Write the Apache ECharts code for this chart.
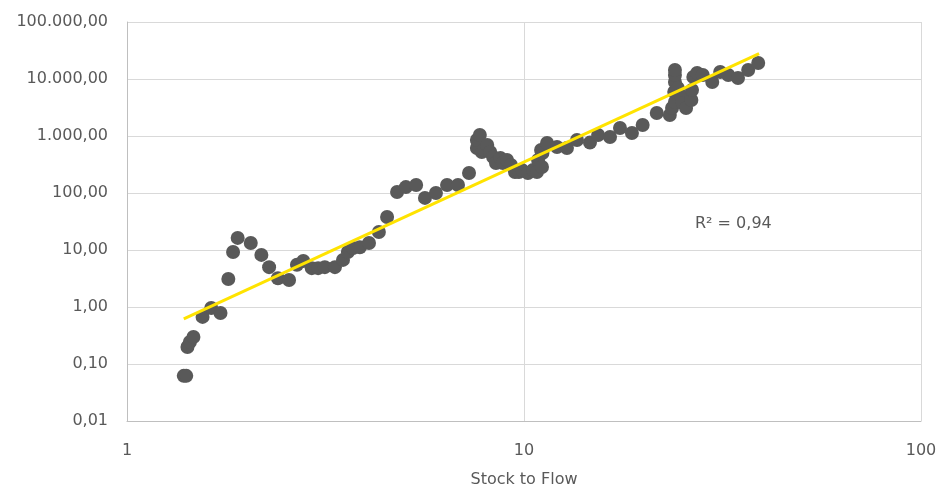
<!DOCTYPE html>
<html>
<head>
<meta charset="utf-8">
<script src="https://cdn.jsdelivr.net/npm/echarts@6/dist/echarts.min.js"></script>
<style>
  html, body { margin: 0; padding: 0; background: #fff; }
  #chart { width: 941px; height: 488px; }
</style>
</head>
<body>
<div id="chart"></div>
<script>
// stock-to-flow ratio (x) vs price (y)
const s2f = [
  1.39, 1.41, 1.42, 1.44, 1.47, 1.55, 1.63, 1.72, 1.80, 1.85,
  1.90, 2.05, 2.18, 2.28, 2.40, 2.56, 2.68, 2.78, 2.92, 3.03,
  3.15, 3.34, 3.50, 3.60, 3.71, 3.86, 4.07, 4.31, 4.52, 4.79,
  5.04, 5.35, 5.63, 6.00, 6.40, 6.82, 7.27, 7.61, 7.61, 7.74,
  7.83, 7.93, 8.08, 8.22, 8.36, 8.50, 8.72, 8.85, 9.06, 9.27,
  9.49, 9.71, 9.88, 10.23, 10.54, 10.78, 10.85, 11.04, 11.10, 11.13,
  11.43, 12.11, 12.83, 13.60, 14.66, 15.37, 16.47, 17.45, 18.7, 19.9,
  21.6, 23.3, 23.6, 23.9, 24.0, 24.0, 24.0, 24.0, 24.4, 24.9,
  25.1, 25.6, 26.4, 26.5, 26.7, 27.3, 28.2, 29.8, 31.2, 32.7,
  34.6, 36.7, 38.9
]
const price = [
  0.062, 0.062, 0.199, 0.243, 0.298, 0.67, 0.96, 0.785, 3.1, 9.2,
  16.3, 13.3, 8.2, 5.0, 3.2, 2.98, 5.5, 6.4, 4.8, 4.8,
  5.0, 5.0, 6.7, 9.2, 10.8, 11.2, 13.3, 20.7, 37.9, 104,
  127, 138, 82, 100, 138, 138, 224, 615, 850, 1040,
  524, 568, 695, 524, 428, 336, 411, 336, 379, 310,
  234, 234, 253, 224, 253, 234, 379, 568, 286, 504,
  753, 641, 615, 850, 766, 1040, 960, 1380, 1129, 1560,
  2530, 2335, 3100, 5910, 3950, 8860, 11750, 14400, 6950, 5030,
  3790, 3100, 4280, 6410, 10840, 12740, 11750, 8860, 13280, 11750,
  10420, 14400, 19100
]

// power trendline ends as drawn in the picture
const trendX = [1.39, 39.1]
const trendY = [0.62, 27900]
const r2Label = 'R² = 0,94'

const xTicks = [1, 10, 100]
const yMin = 0.01
const yMax = 100000

function fmtNum(v) {
  const parts = v.toFixed(2).split('.')
  return parts[0].replace(/\B(?=(\d{3})+(?!\d))/g, '.') + ',' + parts[1]
}

const chart = echarts.init(document.getElementById('chart'))
const font = 'DejaVu Sans'
const grey = '#595959'

const option = {
  animation: false,
  textStyle: { fontFamily: font },
  grid: { left: 127, right: 20, top: 22, bottom: 67, outerBoundsMode: 'none', containLabel: false },
  xAxis: {
    type: 'log',
    logBase: 10,
    min: xTicks[0],
    max: xTicks[xTicks.length - 1],
    name: 'Stock to Flow',
    nameLocation: 'middle',
    nameGap: 51,
    nameTextStyle: { color: grey, fontSize: 16, fontFamily: font },
    axisLine: { lineStyle: { color: '#bfbfbf', width: 1 } },
    axisTick: { show: false },
    axisLabel: { color: grey, fontSize: 16, margin: 22 },
    splitLine: { show: true, lineStyle: { color: '#d9d9d9', width: 1 } }
  },
  yAxis: {
    type: 'log',
    logBase: 10,
    min: yMin,
    max: yMax,
    splitNumber: 7,
    axisLine: { show: true, lineStyle: { color: '#bfbfbf', width: 1 } },
    axisTick: { show: false },
    axisLabel: { color: grey, fontSize: 16, margin: 19, formatter: fmtNum },
    splitLine: { show: true, lineStyle: { color: '#d9d9d9', width: 1 } }
  },
  graphic: [
    {
      type: 'text',
      left: 695,
      top: 216,
      style: { text: r2Label, fill: grey, fontSize: 16, fontFamily: font }
    }
  ],
  series: [
    {
      type: 'scatter',
      symbolSize: 14,
      itemStyle: { color: grey, opacity: 1 },
      data: s2f.map((x, i) => [x, price[i]]),
      z: 2
    },
    {
      type: 'line',
      symbol: 'none',
      lineStyle: { color: '#ffe300', width: 3 },
      data: trendX.map((x, i) => [x, trendY[i]]),
      z: 3
    }
  ]
}

chart.setOption(option)
</script>
</body>
</html>
